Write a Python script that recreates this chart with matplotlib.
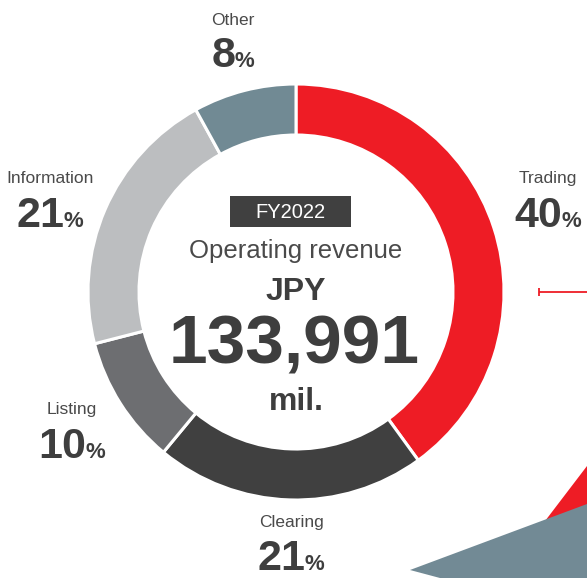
import matplotlib
matplotlib.use("Agg")
import matplotlib.pyplot as plt
from matplotlib.patches import Polygon, Rectangle

plt.rcParams['font.family'] = ['Liberation Sans', 'DejaVu Sans']

# Segment data (clockwise from 12 o'clock)
segments = ["Trading", "Clearing", "Listing", "Information", "Other"]
shares = [40, 21, 10, 21, 8]
colors = ["#EE1C25", "#404040", "#6D6E71", "#BCBEC0", "#718A94"]

# label anchor positions in image pixels (x centre, baseline of name, baseline of number)
label_pos = {
    "Other": (233, 25, 67),
    "Trading": (548, 183, 227),
    "Information": (50, 183, 227),
    "Listing": (72, 414, 458),
    "Clearing": (291, 527, 570),
}

fiscal_year = "FY2022"
headline = "Operating revenue"
currency = "JPY"
total = "133,991"
unit = "mil."

W, H = 587, 578
fig = plt.figure(figsize=(W / 100, H / 100), dpi=100)
ax = fig.add_axes([0, 0, 1, 1])


def Y(y):
    # image row -> data y
    return H - y


cx, cy, R = 296, 292, 208
ax.pie(shares, colors=colors, startangle=90, counterclock=False,
       center=(cx, Y(cy)), radius=R,
       wedgeprops=dict(width=51, edgecolor="white", linewidth=2.2))
ax.set_xlim(0, W)
ax.set_ylim(0, H)
ax.set_aspect("auto")
ax.axis("off")

text_dark = "#3E3E3E"
text_mid = "#4A4A4A"

# centre block
ax.add_patch(Rectangle((230, Y(227)), 121, 31, facecolor="#404040", edgecolor="none"))
ax.text(290.5, Y(218), fiscal_year, ha="center", va="baseline", fontsize=14.5, color="white")
ax.text(296, Y(258), headline, ha="center", va="baseline", fontsize=18.5, color=text_mid)
ax.text(296, Y(300), currency, ha="center", va="baseline", fontsize=23, color=text_dark, fontweight="bold")
ax.text(294, Y(363), total, ha="center", va="baseline", fontsize=50, color=text_dark, fontweight="bold")
ax.text(296, Y(410), unit, ha="center", va="baseline", fontsize=23, color=text_dark, fontweight="bold")

# outer labels
fig.canvas.draw()
renderer = fig.canvas.get_renderer()
for name, share in zip(segments, shares):
    x, yn, yv = label_pos[name]
    ax.text(x, Y(yn), name, ha="center", va="baseline", fontsize=12.5, color=text_mid)
    t1 = ax.text(0, Y(yv), str(share), ha="left", va="baseline", fontsize=31,
                 color=text_dark, fontweight="bold")
    t2 = ax.text(0, Y(yv), "%", ha="left", va="baseline", fontsize=16,
                 color=text_dark, fontweight="bold")
    w1 = t1.get_window_extent(renderer).width
    w2 = t2.get_window_extent(renderer).width
    gap = -1
    start = x - (w1 + gap + w2) / 2
    t1.set_x(start)
    t2.set_x(start + w1 + gap)

# decorations cut off at the right edge
red = "#EE1C25"
ax.plot([539, W], [Y(292), Y(292)], color=red, lw=1.3, solid_capstyle="butt")
ax.plot([539, 539], [Y(288), Y(296)], color=red, lw=1.3, solid_capstyle="butt")
ax.add_patch(Polygon([(W, Y(466)), (542, Y(525)), (W, Y(507))], closed=True,
                     facecolor=red, edgecolor="none"))
ax.add_patch(Polygon([(410, Y(570)), (W, Y(504)), (W, Y(H)), (440, Y(H))], closed=True,
                     facecolor="#728A95", edgecolor="none"))

fig.savefig("out.png", dpi=100)
